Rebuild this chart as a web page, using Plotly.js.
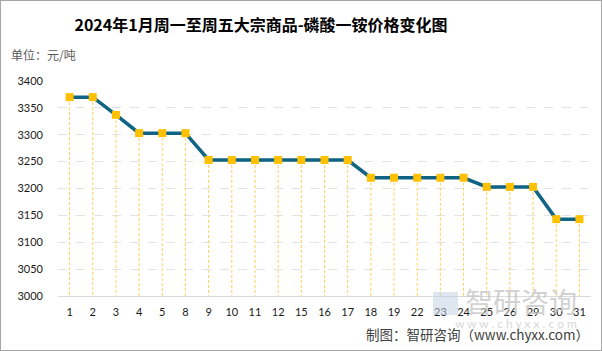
<!DOCTYPE html>
<html><head><meta charset="utf-8">
<script src="https://cdn.plot.ly/plotly-3.0.1.min.js"></script>
<style>
html,body{margin:0;padding:0;background:#fff;}
#wrap{position:relative;width:602px;height:351px;}
#chart{width:602px;height:351px;}
#frame{position:absolute;left:0;top:0;width:600px;height:349px;border:1px solid #a6a6a6;pointer-events:none;}
</style></head>
<body>
<div id="wrap"><div id="chart"></div><div id="frame"></div></div>
<script>
const days = ['1','2','3','4','5','8','9','10','11','12','15','16','17','18','19','22','23','24','25','26','29','30','31'];
const prices = [3370,3370,3337,3303,3303,3303,3253,3253,3253,3253,3253,3253,3253,3220,3220,3220,3220,3220,3203,3203,3203,3143,3143];
const yTicks = [3000,3050,3100,3150,3200,3250,3300,3350,3400];
const titleText = '2024年1月周一至周五大宗商品-磷酸一铵价格变化图';
const unitText = '单位：元/吨';
const sourceText = '制图：智研咨询（www.chyxx.com）';
const watermarkText = '智研咨询';
const watermarkUrl = 'w w w . c h y x x . c o m';
const yBase = 3000;

const dropX = [], dropY = [];
days.forEach((d,i)=>{ dropX.push(d,d,null); dropY.push(prices[i], yBase, null); });

const numFont = 'Lato, "Noto Sans CJK SC", sans-serif';
const cjkFont = '"Noto Sans CJK SC", sans-serif';
const PW = 533, PH = 215;

const traces = [
  {x: dropX, y: dropY, mode:'lines', type:'scatter', hoverinfo:'skip',
   line:{color:'#FFD05A', width:1, dash:'3px,2px'}, showlegend:false, connectgaps:false},
  {x: days, y: prices, mode:'lines+markers', type:'scatter',
   line:{color:'#0E6482', width:3.5},
   marker:{symbol:'square', size:8, color:'#FFC000', line:{width:0}},
   showlegend:false}
];

const layout = {
  width:602, height:351,
  margin:{l:58, r:11, t:81, b:55, pad:0},
  paper_bgcolor:'#fff', plot_bgcolor:'#fff',
  title:{text:'<b>'+titleText+'</b>', font:{family:cjkFont, size:16, color:'#000'},
    xref:'container', yref:'container', x:261/602, xanchor:'center', y:1-25/351, yanchor:'middle'},
  xaxis:{type:'category', categoryorder:'array', categoryarray:days, range:[-0.5, days.length-0.5],
    showgrid:false, zeroline:false, showline:true, linecolor:'#d9d9d9', linewidth:1,
    ticks:'', tickfont:{family:numFont, size:11, color:'#1a1a1a'}, ticklabelstandoff:6,
    fixedrange:true},
  yaxis:{range:[3000,3400], tickvals:yTicks, ticktext:yTicks.map(String),
    showgrid:true, gridcolor:'#e3e3e3', griddash:'dash', gridwidth:1,
    zeroline:false, showline:false, ticks:'',
    tickfont:{family:numFont, size:11, color:'#1a1a1a'}, ticklabelstandoff:14, fixedrange:true},
  annotations:[
    {text:unitText, xref:'paper', yref:'paper', x:-49/PW, y:1+26/PH, xanchor:'left', yanchor:'middle',
     showarrow:false, font:{family:cjkFont, size:12, color:'#595959'}},
    {text:watermarkText, xref:'paper', yref:'paper', x:(579-58)/PW, y:-(301-296)/PH, xanchor:'right', yanchor:'middle',
     showarrow:false, font:{family:cjkFont, size:28, color:'#c4c4c4'}, opacity:0.75},
    {text:watermarkUrl, xref:'paper', yref:'paper', x:(579-58)/PW, y:-(323-296)/PH, xanchor:'right', yanchor:'middle',
     showarrow:false, font:{family:numFont, size:12, color:'#d0d0d0'}, opacity:0.8},
    {text:sourceText, xref:'paper', yref:'paper', x:(591-58)/PW, y:-(334-296)/PH, xanchor:'right', yanchor:'middle',
     showarrow:false, font:{family:cjkFont, size:13.5, color:'#404040'}}
  ],
  shapes:[
    {type:'rect', xref:'paper', yref:'paper', x0:(433-58)/PW, x1:(458-58)/PW, y0:-(315-296)/PH, y1:-(292-296)/PH,
     fillcolor:'#c2d1e3', line:{width:0}, opacity:0.55, layer:'above'}
  ]
};
Plotly.newPlot('chart', traces, layout, {displayModeBar:false, staticPlot:true});
</script>
</body></html>
